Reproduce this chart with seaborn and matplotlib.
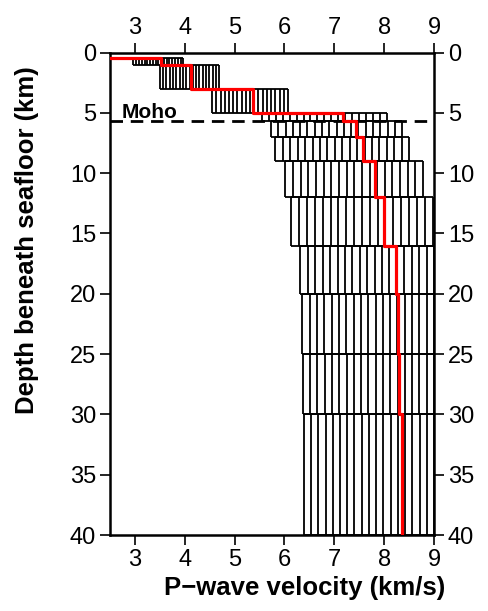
import numpy as np
import pandas as pd
import matplotlib
matplotlib.use("Agg")
import matplotlib.pyplot as plt
import seaborn as sns

# layer model (depth in km, velocity in km/s)
layer_top = [0.45, 1.05, 3.0, 5.0, 5.65, 7.0, 9.0, 12.0, 16.0, 20.0, 25.0, 30.0]
layer_bot = [1.05, 3.0, 5.0, 5.65, 7.0, 9.0, 12.0, 16.0, 20.0, 25.0, 30.0, 40.0]
v_min = [2.97, 3.50, 4.55, 5.55, 5.73, 5.82, 6.02, 6.14, 6.32, 6.36, 6.37, 6.39]
v_max = [3.97, 4.69, 6.07, 8.05, 8.36, 8.50, 8.78, 8.97, 9.0, 9.0, 9.0, 9.0]
v_best = [3.53, 4.13, 5.37, 7.17, 7.43, 7.57, 7.82, 8.00, 8.24, 8.27, 8.30, 8.35]
v_start = 2.5
moho_depth = 5.65
n_div = 18

sns.set_style("ticks", {'axes.edgecolor': 'black', 'text.color': 'black',
                        'axes.labelcolor': 'black', 'xtick.color': 'black',
                        'ytick.color': 'black'})
plt.rcParams['font.family'] = ['Liberation Sans', 'DejaVu Sans']

fig = plt.figure(figsize=(4.88, 6.11), dpi=100)
ax = fig.add_axes([110 / 488, 76 / 611, 324 / 488, 482.5 / 611])

# range boxes with vertical lines
for top, bot, lo, hi in zip(layer_top, layer_bot, v_min, v_max):
    xs = np.linspace(lo, hi, n_div + 1)
    ax.vlines(xs, top, bot, color='black', lw=1.3, zorder=2)
    ax.hlines([top, bot], lo, hi, color='black', lw=1.3, zorder=2)

# best-fit step model
step = pd.DataFrame({
    'v': [v_start] + [v for v in v_best for _ in range(2)],
    'z': [layer_top[0]] + [z for t, b in zip(layer_top, layer_bot) for z in (t, b)],
})
sns.lineplot(data=step, x='v', y='z', sort=False, estimator=None,
             color='#ff0000', lw=2.3, ax=ax, zorder=4)

ax.axhline(moho_depth, color='black', lw=2, dashes=(4.5, 2.8), zorder=3)
ax.text(2.735, moho_depth - 0.25, 'Moho', fontsize=15, fontweight='bold',
        ha='left', va='baseline')

ax.set_xlim(2.5, 9)
ax.set_ylim(40, 0)
ax.set_xticks(range(3, 10))
ax.set_yticks(range(0, 41, 5))
ax.tick_params(axis='both', direction='out', length=7, width=1.2,
               labelsize=17, top=True, right=True,
               labeltop=True, labelright=True, pad=3)
for s in ax.spines.values():
    s.set_linewidth(1.8)

ax.set_xlabel('P\u2212wave velocity (km/s)', fontsize=18.5, fontweight='bold')
ax.set_ylabel('Depth beneath seafloor (km)', fontsize=18.5, fontweight='bold')
ax.xaxis.set_label_position('bottom')
ax.yaxis.set_label_position('left')
ax.xaxis.set_label_coords(0.60, -0.085)
ax.yaxis.set_label_coords(-0.218, 0.611)

fig.savefig('out.png', dpi=100)
